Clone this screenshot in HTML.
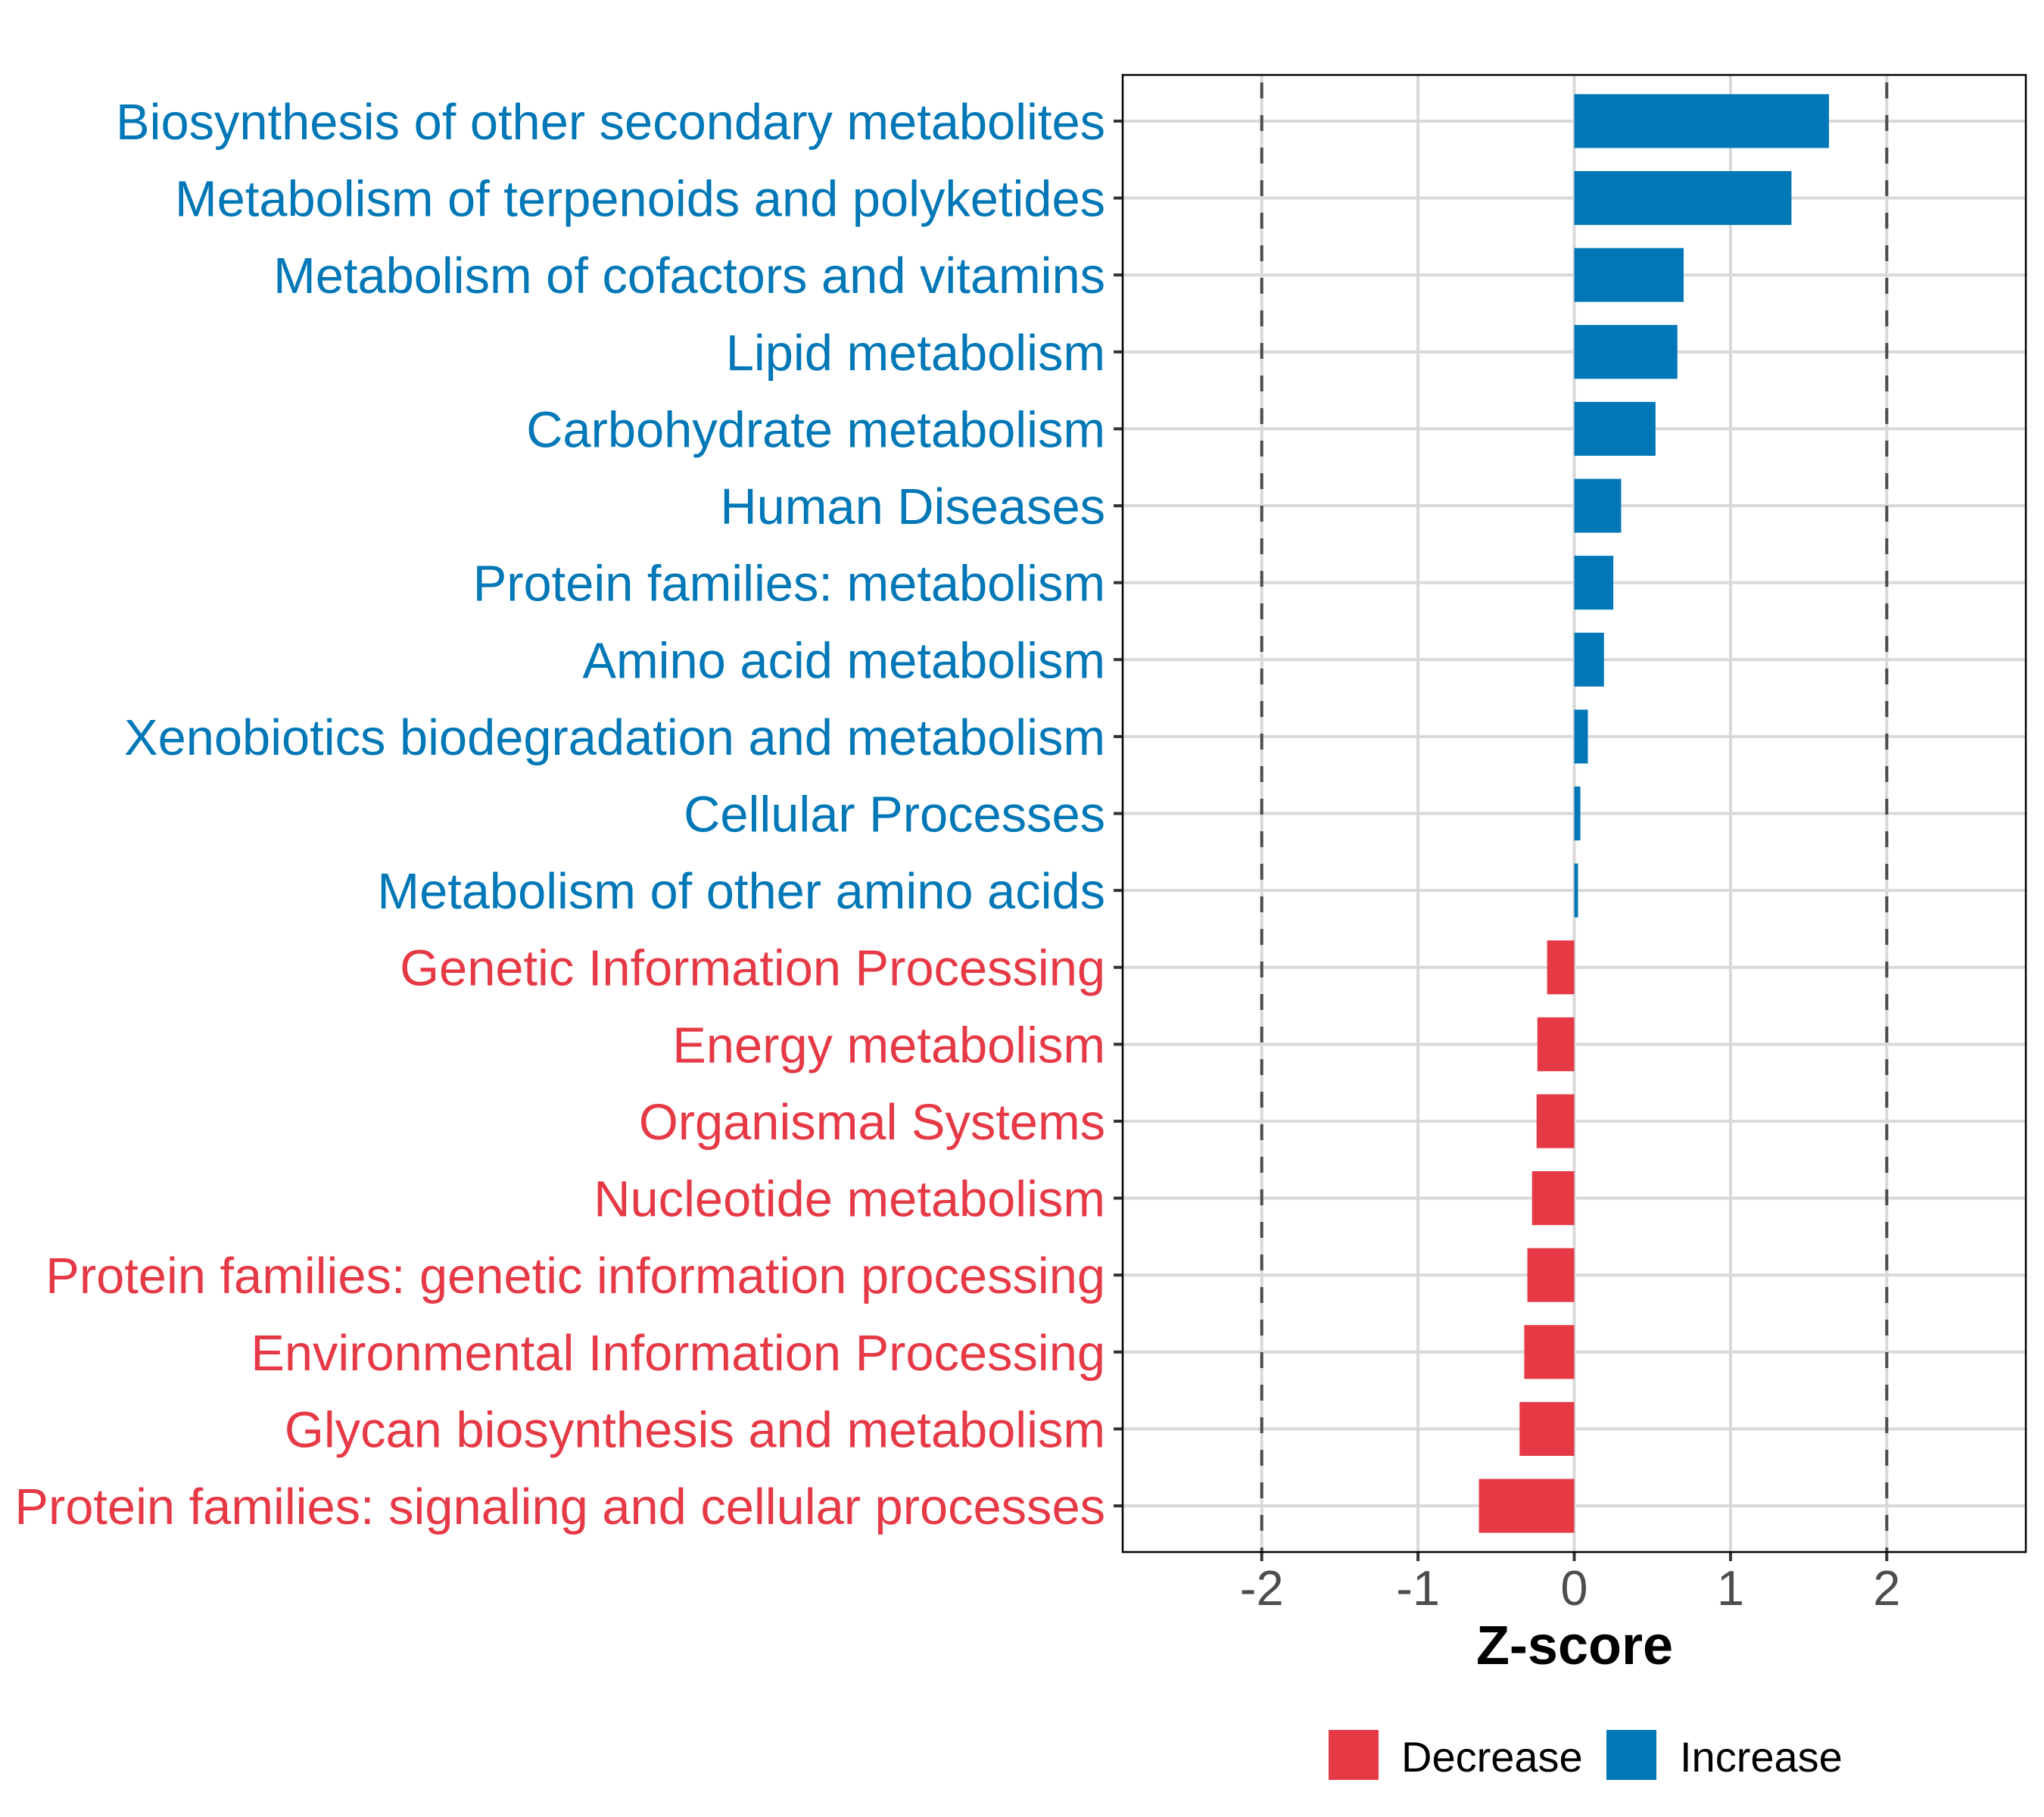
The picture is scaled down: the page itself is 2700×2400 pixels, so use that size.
<!DOCTYPE html>
<html><head><meta charset="utf-8"><style>
html,body{margin:0;padding:0;background:#fff;}
svg{display:block;font-family:"Liberation Sans",Arial,sans-serif;}
</style></head><body>
<svg id="chart" width="2700" height="2400" viewBox="0 0 2700 2400">
<rect x="0" y="0" width="2700" height="2400" fill="#fff"/>
<g id="grid"></g>
<g id="bars"></g>
<g id="ylabels"></g>
<g id="xaxis"></g>
<text x="2080" y="2198" font-size="72" font-weight="bold" text-anchor="middle" fill="#000">Z-score</text>
<g>
<rect x="1755" y="2285" width="66" height="66" fill="#E63946"/>
<text x="1851" y="2340" font-size="56" fill="#000">Decrease</text>
<rect x="2122" y="2285" width="66" height="66" fill="#0077B6"/>
<text x="2219" y="2340" font-size="56" fill="#000">Increase</text>
</g>
</svg>
<script>
const categories = ["Biosynthesis of other secondary metabolites","Metabolism of terpenoids and polyketides","Metabolism of cofactors and vitamins","Lipid metabolism","Carbohydrate metabolism","Human Diseases","Protein families: metabolism","Amino acid metabolism","Xenobiotics biodegradation and metabolism","Cellular Processes","Metabolism of other amino acids","Genetic Information Processing","Energy metabolism","Organismal Systems","Nucleotide metabolism","Protein families: genetic information processing","Environmental Information Processing","Glycan biosynthesis and metabolism","Protein families: signaling and cellular processes"];
const zscores = [1.63,1.39,0.70,0.66,0.52,0.30,0.25,0.19,0.087,0.039,0.024,-0.174,-0.236,-0.241,-0.27,-0.30,-0.32,-0.35,-0.61];
const xTicks = [-2,-1,0,1,2];
const xTickLabels = ["-2","-1","0","1","2"];
const thresholds = [-2,2];

const NS="http://www.w3.org/2000/svg";
const P={l:1483,r:2676,t:99,b:2050};
const xMin=-2.89,xMax=2.89;
const xs=v=>P.l+(v-xMin)/(xMax-xMin)*(P.r-P.l);
const step=(P.b-P.t)/(categories.length-1+1.2);
const ys=i=>P.t+step*(i+0.6);
const BLUE="#0077B6",RED="#E63946";
function mk(tag,attrs,parent){const e=document.createElementNS(NS,tag);for(const k in attrs)e.setAttribute(k,attrs[k]);parent.appendChild(e);return e;}
const grid=document.getElementById('grid'),bars=document.getElementById('bars'),yl=document.getElementById('ylabels'),xa=document.getElementById('xaxis');
const svg=document.getElementById('chart');
xTicks.forEach((t,i)=>{const g=mk('line',{x1:xs(t),x2:xs(t),y1:P.t,y2:P.b,stroke:'#d9d9d9','stroke-width':4},grid);

});
categories.forEach((c,i)=>{const g=mk('line',{x1:P.l,x2:P.r,y1:ys(i),y2:ys(i),stroke:'#d9d9d9','stroke-width':4},grid);

});
categories.forEach((c,i)=>{const v=zscores[i];const x0=xs(0),x1=xs(v);const h=step*0.7;
const r=mk('rect',{x:Math.min(x0,x1),y:ys(i)-h/2,width:Math.abs(x1-x0),height:h,fill:v>=0?BLUE:RED},bars);


const t=mk('text',{x:1460,y:ys(i)+24,'font-size':66.8,'text-anchor':'end',fill:v>=0?BLUE:RED},yl);t.textContent=c;


const tk=mk('line',{x1:P.l-12,x2:P.l,y1:ys(i),y2:ys(i),stroke:'#333','stroke-width':4},yl);

});
thresholds.forEach(t=>{const d=mk('line',{x1:xs(t),x2:xs(t),y1:P.t+10,y2:P.b,stroke:'#4d4d4d','stroke-width':4,'stroke-dasharray':'21 22'},svg);

});
const pb=mk('rect',{x:P.l,y:P.t,width:P.r-P.l,height:P.b-P.t,fill:'none',stroke:'#000','stroke-width':2.5},svg);


xTicks.forEach((t,i)=>{const l=mk('line',{x1:xs(t),x2:xs(t),y1:P.b,y2:P.b+12,stroke:'#333','stroke-width':4},xa);


const tx=mk('text',{x:xs(t),y:2120,'font-size':65,'text-anchor':'middle',fill:'#4d4d4d'},xa);tx.textContent=xTickLabels[i];

});
</script>
</body></html>
